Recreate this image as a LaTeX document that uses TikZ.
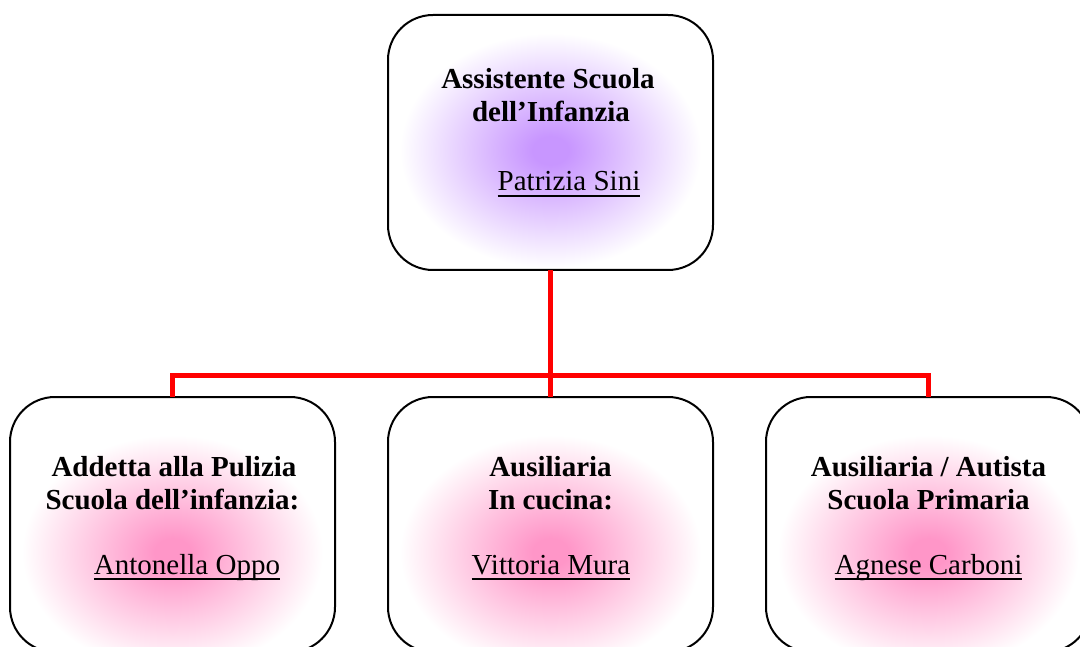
\documentclass[tikz,border=0pt]{standalone}
\usepackage{fontspec}
\setmainfont{Liberation Serif}
\definecolor{glowpurple}{RGB}{200,150,255}
\definecolor{glowpink}{RGB}{255,150,200}
\pgfdeclareradialshading{glowP}{\pgfpoint{0bp}{0bp}}{color(0bp)=(glowpurple);color(18bp)=(glowpurple);color(150bp)=(white);color(160bp)=(white)}
\pgfdeclareradialshading{glowK}{\pgfpoint{0bp}{0bp}}{color(0bp)=(glowpink);color(18bp)=(glowpink);color(150bp)=(white);color(160bp)=(white)}
\newcommand\myul[1]{\leavevmode\setbox0\hbox{#1}\rlap{\rule[-6.2pt]{\wd0}{2pt}}\box0}
\begin{document}
\begin{tikzpicture}[x=1pt,y=-1pt,
  box/.style={draw=black, line width=2pt, fill=white, rounded corners=45pt,
    minimum width=325pt, minimum height=255pt, inner sep=0pt, outer sep=0pt},
  glow/.style 2 args={path picture={
    \path (path picture bounding box.center) ++(0,#2)
      node[inner sep=0pt, outer sep=0pt] {\scalebox{1.0}[0.78]{\pgfuseshading{#1}}};}},
  link/.style={draw=red, line width=5pt},
  ttl/.style={font=\fontsize{29}{33}\selectfont\bfseries, anchor=base, inner sep=0pt},
  nm/.style={font=\fontsize{29}{33}\selectfont, anchor=base, inner sep=0pt}]
\useasboundingbox (0,0) rectangle (1080,647);
\clip (0,0) rectangle (1080,647);
\fill[white] (0,0) rectangle (1080,647);
% boxes
\node[box, glow={glowP}{8}] (top) at (550.5,142.5) {};
\node[box, glow={glowK}{28}] (bl) at (172.5,524.5) {};
\node[box, glow={glowK}{28}] (bm) at (550.5,524.5) {};
\node[box, glow={glowK}{28}] (br) at (928.5,524.5) {};
% connectors
\coordinate (j) at (550.5,375.5);
\draw[link] (top.south) -- (j);
\draw[link] (j) -| (bl.north);
\draw[link] (j) -| (br.north);
\draw[link] (j) -- (bm.north);
% texts
\node[ttl] (t1) at (548,89) {Assistente Scuola};
\node[ttl] (t2) at (551,122) {dell’Infanzia};
\node[nm] (n0) at (569,191) {\myul{Patrizia Sini}};
\node[ttl] (a1) at (174,476) {Addetta alla Pulizia};
\node[ttl] (a2) at (172.5,509) {Scuola dell’infanzia:};
\node[nm] (an) at (187,574) {\myul{Antonella Oppo}};
\node[ttl] (b1) at (550.5,476) {Ausiliaria};
\node[ttl] (b2) at (550.5,509) {In cucina:};
\node[nm] (bn) at (551,574) {\myul{Vittoria Mura}};
\node[ttl] (c1) at (928.5,476) {Ausiliaria / Autista};
\node[ttl] (c2) at (928.5,509) {Scuola Primaria};
\node[nm] (cn) at (928.5,574) {\myul{Agnese Carboni}};
\end{tikzpicture}
\end{document}
